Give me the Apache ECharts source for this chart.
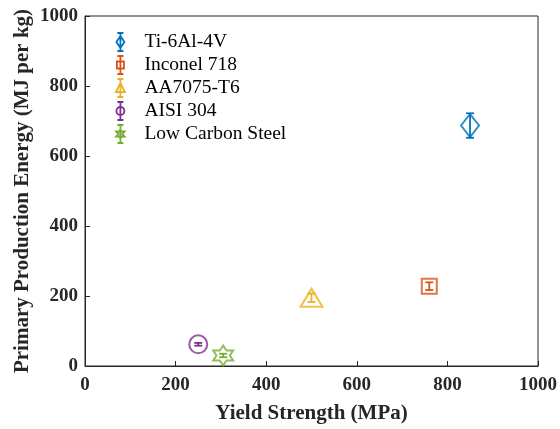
<!DOCTYPE html>
<html>
<head>
<meta charset="utf-8">
<script src="https://cdn.jsdelivr.net/npm/echarts@6/dist/echarts.min.js"></script>
<style>
  html, body { margin: 0; padding: 0; background: #fff; }
  #chart { width: 560px; height: 429px; }
</style>
</head>
<body>
<div id="chart"></div>
<script>
// Materials: yield strength (MPa), primary production energy (MJ/kg) and its spread
const materials = ['Ti-6Al-4V', 'Inconel 718', 'AA7075-T6', 'AISI 304', 'Low Carbon Steel'];
const yieldStrength = [850, 760, 500, 250, 305];
const energy = [687, 228, 195, 62, 30];
const energyErr = [35, 11, 12, 4, 5];
const xTicks = [0, 200, 400, 600, 800, 1000];
const yTicks = [0, 200, 400, 600, 800, 1000];

const colors = ['#0072BD', '#D95319', '#EDB120', '#7E2F8E', '#77AC30'];

const hexagram = 'path://M0,-10L2.887,-5L8.66,-5L5.774,0L8.66,5L2.887,5L0,10L-2.887,5L-8.66,5L-5.774,0L-8.66,-5L-2.887,-5Z';
const symbols = ['diamond', 'rect', 'triangle', 'circle', hexagram];
const symbolSizes = [[18, 23], [15, 15], [22, 18], [18, 18], [20, 20]];

// legend glyphs: marker outline with a vertical error bar through it
const bar = 'M6,0L6,18M3,0L9,0M3,18L9,18';
const legendIcons = [
  'path://' + bar + 'M6,3L10,9L6,15L2,9Z',
  'path://' + bar + 'M2.5,5.5L9.5,5.5L9.5,12.5L2.5,12.5Z',
  'path://' + bar + 'M6,4L10.5,13L1.5,13Z',
  'path://' + bar + 'M10,9A4,4,0,1,1,2,9A4,4,0,1,1,10,9Z',
  'path://' + bar + 'M6,4L7,6.5L10.3,6.5L8,9L10.3,11.5L7,11.5L6,14L5,11.5L1.7,11.5L4,9L1.7,6.5L5,6.5Z'
];

const serif = '"Liberation Serif", "Times New Roman", serif';
const ink = '#262626';

const series = [];
materials.forEach((name, i) => {
  series.push({
    name: name,
    type: 'custom',
    z: 2,
    data: [[yieldStrength[i], energy[i], energyErr[i]]],
    renderItem: function (params, api) {
      const x = api.value(0), y = api.value(1), e = api.value(2);
      const hi = api.coord([x, y + e]);
      const lo = api.coord([x, y - e]);
      const w = 4;
      const style = { stroke: colors[i], lineWidth: 1.8, fill: null };
      return {
        type: 'group',
        children: [
          { type: 'line', shape: { x1: hi[0], y1: hi[1], x2: lo[0], y2: lo[1] }, style: style },
          { type: 'line', shape: { x1: hi[0] - w, y1: hi[1], x2: hi[0] + w, y2: hi[1] }, style: style },
          { type: 'line', shape: { x1: lo[0] - w, y1: lo[1], x2: lo[0] + w, y2: lo[1] }, style: style }
        ]
      };
    }
  });
  series.push({
    name: name,
    type: 'scatter',
    z: 3,
    symbol: symbols[i],
    symbolSize: symbolSizes[i],
    data: [[yieldStrength[i], energy[i]]],
    itemStyle: { color: 'rgba(0,0,0,0)', borderColor: colors[i], borderWidth: 2 },
    emphasis: { disabled: true }
  });
});

const chart = echarts.init(document.getElementById('chart'));
chart.setOption({
  animation: false,
  backgroundColor: '#ffffff',
  grid: { left: 85, right: 19, top: 16, bottom: 62, show: true, borderColor: ink, borderWidth: 1, backgroundColor: 'transparent' },
  legend: {
    orient: 'vertical',
    left: 110,
    top: 27,
    itemWidth: 12,
    itemHeight: 18,
    itemGap: 3,
    data: materials.map((n, i) => ({
      name: n,
      icon: legendIcons[i],
      itemStyle: { color: 'rgba(0,0,0,0)', borderColor: colors[i], borderWidth: 1.8 }
    })),
    textStyle: { fontFamily: serif, fontSize: 19.5, color: '#000', padding: [0, 0, 0, 13] }
  },
  xAxis: {
    type: 'value',
    min: xTicks[0],
    max: xTicks[xTicks.length - 1],
    interval: 200,
    name: 'Yield Strength (MPa)',
    nameLocation: 'middle',
    nameGap: 37,
    nameMoveOverlap: false,
    nameTextStyle: { fontFamily: serif, fontSize: 21, fontWeight: 'bold', color: ink },
    axisLine: { show: true, lineStyle: { color: ink, width: 1 } },
    axisTick: { show: true, inside: true, length: 5, lineStyle: { color: ink } },
    axisLabel: { fontFamily: serif, fontSize: 19, fontWeight: 'bold', color: ink, margin: 10, formatter: v => String(v) },
    splitLine: { show: false }
  },
  yAxis: {
    type: 'value',
    min: yTicks[0],
    max: yTicks[yTicks.length - 1],
    interval: 200,
    name: 'Primary Production Energy (MJ per kg)',
    nameLocation: 'middle',
    nameGap: 52,
    nameMoveOverlap: false,
    nameTextStyle: { fontFamily: serif, fontSize: 21, fontWeight: 'bold', color: ink },
    axisLine: { show: true, lineStyle: { color: ink, width: 1 } },
    axisTick: { show: true, inside: true, length: 5, lineStyle: { color: ink } },
    axisLabel: { fontFamily: serif, fontSize: 19, fontWeight: 'bold', color: ink, margin: 7, formatter: v => String(v) },
    splitLine: { show: false }
  },
  series: series
});
</script>
</body>
</html>
